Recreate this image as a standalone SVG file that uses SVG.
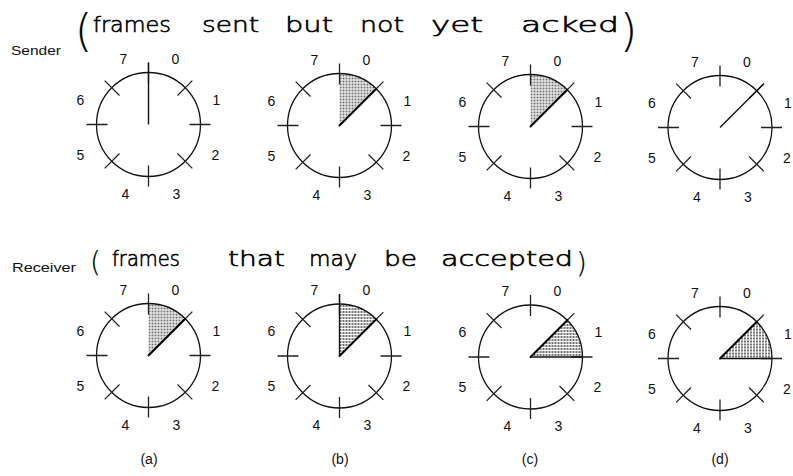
<svg xmlns="http://www.w3.org/2000/svg" xmlns:xlink="http://www.w3.org/1999/xlink" width="793" height="476" viewBox="0 0 793 476">
<style>
.bg{fill:#fff}
.ring{fill:none;stroke:#111;stroke-width:1.3}
.tick{stroke:#222;stroke-width:1.3;fill:none}
.ptr{stroke:#111;stroke-width:1.4;fill:none}
.edge{stroke:#000;stroke-width:1.9;fill:none;stroke-linecap:round}
.sector{fill:url(#dots);stroke:none}
.num{font-family:"Liberation Sans",Arial,sans-serif;font-size:14px;fill:#111;text-anchor:middle}
.side{font-family:"Liberation Sans",Arial,sans-serif;font-size:13px;fill:#111}
.cap{font-family:"Liberation Sans",Arial,sans-serif;font-size:14px;fill:#111;text-anchor:middle}
.hand{font-family:"DejaVu Sans",sans-serif;font-weight:200;font-size:22px;fill:#000;stroke:#000;stroke-width:0.6}
.par{font-family:"DejaVu Sans",sans-serif;font-weight:200;fill:#000;stroke:#000;stroke-width:0.2}
</style>
<defs>
<pattern id="dots" width="3" height="3" patternUnits="userSpaceOnUse">
<rect width="3" height="3" fill="#fff"/>
<rect x="0" y="0" width="2" height="2" fill="#727272"/>
</pattern>
<g id="dial">
<circle class="ring" cx="0" cy="0" r="52"/>
<path class="tick" d="M0,-41V-62M29,-29L43.84,-43.84M41,0H62M29,29L43.84,43.84M0,41V62M-29,29L-43.84,43.84M-41,0H-62M-29,-29L-43.84,-43.84"/>
</g>
</defs>
<rect class="bg" width="793" height="476"/>

<g id="titles">
<text class="side" x="11" y="55" textLength="50" lengthAdjust="spacingAndGlyphs">Sender</text>
<text class="side" x="12" y="272" textLength="64" lengthAdjust="spacingAndGlyphs">Receiver</text>
</g>

<g id="sender-note">
<text class="par" x="75" y="46" font-size="44">(</text>
<text class="hand" x="93" y="32" textLength="78" lengthAdjust="spacingAndGlyphs">frames</text>
<text class="hand" x="202" y="32" textLength="57" lengthAdjust="spacingAndGlyphs">sent</text>
<text class="hand" x="285" y="32" textLength="48" lengthAdjust="spacingAndGlyphs">but</text>
<text class="hand" x="360" y="32" textLength="44" lengthAdjust="spacingAndGlyphs">not</text>
<text class="hand" x="431" y="32" textLength="52" lengthAdjust="spacingAndGlyphs">yet</text>
<text class="hand" x="521" y="32" textLength="98" lengthAdjust="spacingAndGlyphs">acked</text>
<text class="par" x="620" y="46" font-size="44">)</text>
</g>

<g id="receiver-note">
<text class="par" x="90" y="272" font-size="28">(</text>
<text class="hand" x="112" y="266" textLength="68" lengthAdjust="spacingAndGlyphs">frames</text>
<text class="hand" x="228" y="266" textLength="57" lengthAdjust="spacingAndGlyphs">that</text>
<text class="hand" x="309" y="266" textLength="48" lengthAdjust="spacingAndGlyphs">may</text>
<text class="hand" x="384" y="266" textLength="33" lengthAdjust="spacingAndGlyphs">be</text>
<text class="hand" x="441" y="266" textLength="132" lengthAdjust="spacingAndGlyphs">accepted</text>
<text class="par" x="576" y="273" font-size="28">)</text>
</g>

<g id="connectors"></g>

<!-- Sender row -->
<g id="sender-a" transform="translate(148.5,124.5)">
<use xlink:href="#dial"/>
<path class="ptr" d="M0,0V-62"/>
<text class="num" x="27" y="-61">0</text><text class="num" x="68" y="-20">1</text><text class="num" x="67" y="35">2</text><text class="num" x="28" y="74">3</text>
<text class="num" x="-23" y="74">4</text><text class="num" x="-68" y="35">5</text><text class="num" x="-68" y="-20">6</text><text class="num" x="-25" y="-61">7</text>
</g>
<g id="sender-b" transform="translate(339.5,125.5)">
<path class="sector" d="M0,0V-52A52,52 0 0 1 36.77,-36.77Z"/>
<use xlink:href="#dial"/>
<path class="edge" d="M0,0L36.77,-36.77"/>
<text class="num" x="27" y="-61">0</text><text class="num" x="68" y="-20">1</text><text class="num" x="67" y="35">2</text><text class="num" x="28" y="74">3</text>
<text class="num" x="-23" y="74">4</text><text class="num" x="-68" y="35">5</text><text class="num" x="-68" y="-20">6</text><text class="num" x="-25" y="-61">7</text>
</g>
<g id="sender-c" transform="translate(530.5,126.5)">
<path class="sector" d="M0,0V-52A52,52 0 0 1 36.77,-36.77Z"/>
<use xlink:href="#dial"/>
<path class="edge" d="M0,0L36.77,-36.77"/>
<text class="num" x="27" y="-61">0</text><text class="num" x="68" y="-20">1</text><text class="num" x="67" y="35">2</text><text class="num" x="28" y="74">3</text>
<text class="num" x="-23" y="74">4</text><text class="num" x="-68" y="35">5</text><text class="num" x="-68" y="-20">6</text><text class="num" x="-25" y="-61">7</text>
</g>
<g id="sender-d" transform="translate(720,127.5)">
<use xlink:href="#dial"/>
<path class="ptr" d="M0,0L43.84,-43.84"/>
<text class="num" x="27" y="-61">0</text><text class="num" x="68" y="-20">1</text><text class="num" x="67" y="35">2</text><text class="num" x="28" y="74">3</text>
<text class="num" x="-23" y="74">4</text><text class="num" x="-68" y="35">5</text><text class="num" x="-68" y="-20">6</text><text class="num" x="-25" y="-61">7</text>
</g>

<!-- Receiver row -->
<g id="receiver-a" transform="translate(148.5,355.5)">
<path class="sector" d="M0,0V-52A52,52 0 0 1 36.77,-36.77Z"/>
<use xlink:href="#dial"/>
<path class="edge" d="M0,0L36.77,-36.77"/>
<text class="num" x="27" y="-61">0</text><text class="num" x="68" y="-20">1</text><text class="num" x="67" y="35">2</text><text class="num" x="28" y="74">3</text>
<text class="num" x="-23" y="74">4</text><text class="num" x="-68" y="35">5</text><text class="num" x="-68" y="-20">6</text><text class="num" x="-25" y="-61">7</text>
</g>
<g id="receiver-b" transform="translate(339.5,356)">
<path class="sector" d="M0,0V-52A52,52 0 0 1 36.77,-36.77Z"/>
<use xlink:href="#dial"/>
<path class="ptr" d="M0,0V-62"/>
<path class="edge" d="M0,0L36.77,-36.77"/>
<text class="num" x="27" y="-61">0</text><text class="num" x="68" y="-20">1</text><text class="num" x="67" y="35">2</text><text class="num" x="28" y="74">3</text>
<text class="num" x="-23" y="74">4</text><text class="num" x="-68" y="35">5</text><text class="num" x="-68" y="-20">6</text><text class="num" x="-25" y="-61">7</text>
</g>
<g id="receiver-c" transform="translate(530.5,357)">
<path class="sector" d="M0,0L36.77,-36.77A52,52 0 0 1 52,0Z"/>
<use xlink:href="#dial"/>
<path class="edge" d="M0,0L36.77,-36.77"/>
<path class="ptr" d="M0,0H52"/>
<text class="num" x="27" y="-61">0</text><text class="num" x="68" y="-20">1</text><text class="num" x="67" y="35">2</text><text class="num" x="28" y="74">3</text>
<text class="num" x="-23" y="74">4</text><text class="num" x="-68" y="35">5</text><text class="num" x="-68" y="-20">6</text><text class="num" x="-25" y="-61">7</text>
</g>
<g id="receiver-d" transform="translate(720,358.5)">
<path class="sector" d="M0,0L36.77,-36.77A52,52 0 0 1 52,0Z"/>
<use xlink:href="#dial"/>
<path class="edge" d="M0,0L36.77,-36.77"/>
<path class="ptr" d="M0,0H52"/>
<text class="num" x="27" y="-61">0</text><text class="num" x="68" y="-20">1</text><text class="num" x="67" y="35">2</text><text class="num" x="28" y="74">3</text>
<text class="num" x="-23" y="74">4</text><text class="num" x="-68" y="35">5</text><text class="num" x="-68" y="-20">6</text><text class="num" x="-25" y="-61">7</text>
</g>

<g id="captions">
<text class="cap" x="149" y="464">(a)</text>
<text class="cap" x="340" y="464">(b)</text>
<text class="cap" x="530" y="464">(c)</text>
<text class="cap" x="720" y="464">(d)</text>
</g>
</svg>
